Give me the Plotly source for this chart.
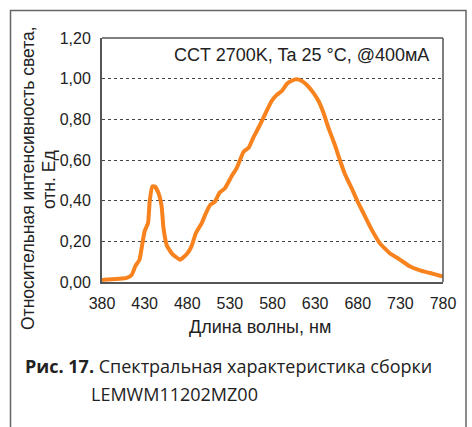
import plotly.graph_objects as go

# Data
wavelength = [380, 409, 415, 419, 424, 426.5, 430, 434, 436, 439, 442, 446, 450, 452, 456, 462,
              471.5, 480, 485, 490, 497, 501, 507, 512.5, 518, 524, 532, 538, 546, 552, 557.5,
              565, 573, 579, 585, 591, 597, 602.5, 608, 614, 620, 628, 634, 640, 645.5, 653.5,
              659, 665, 673, 680.5, 686.5, 696, 706, 718, 729.5, 741, 753, 765, 776.5, 780]
intensity = [0.01, 0.02, 0.036, 0.077, 0.11, 0.167, 0.25, 0.29, 0.40, 0.47, 0.47, 0.44, 0.37, 0.27,
             0.18, 0.14, 0.11, 0.14, 0.175, 0.24, 0.29, 0.33, 0.38, 0.395, 0.44, 0.46, 0.52, 0.56,
             0.64, 0.66, 0.71, 0.77, 0.84, 0.89, 0.92, 0.94, 0.975, 0.99, 0.997, 0.99, 0.97, 0.93,
             0.89, 0.83, 0.76, 0.67, 0.60, 0.53, 0.46, 0.39, 0.34, 0.26, 0.19, 0.14, 0.11, 0.077,
             0.057, 0.044, 0.031, 0.026]

x_ticks = [380, 430, 480, 530, 580, 630, 680, 730, 780]
y_ticks = [0.0, 0.2, 0.4, 0.6, 0.8, 1.0, 1.2]
y_tick_labels = ["0,00", "0,20", "0,40", "0,60", "0,80", "1,00", "1,20"]

W, H = 472, 427
L, R, T, B = 102, 29, 38, 145
pw, ph = W - L - R, H - T - B

def px_x(px):
    return (px - L) / pw

def px_y(py):
    return (H - B - py) / ph

fig = go.Figure()
fig.add_trace(go.Scatter(x=wavelength, y=intensity, mode="lines",
                         line=dict(color="#F7821E", width=4, shape="spline", smoothing=0.4),
                         showlegend=False, hoverinfo="skip"))

font_main = "Liberation Sans, Arial, sans-serif"
txt = "#222222"
fig.update_layout(
    width=W, height=H,
    margin=dict(l=L, r=R, t=T, b=B),
    paper_bgcolor="white", plot_bgcolor="white",
    font=dict(family=font_main, size=16, color=txt),
    xaxis=dict(range=[380, 780], tickvals=x_ticks, showgrid=False, zeroline=False,
               showline=True, linecolor="#555555", linewidth=2,
               ticks="", ticklabelstandoff=6, tickfont=dict(size=16, color=txt)),
    yaxis=dict(range=[0, 1.2], tickvals=y_ticks, ticktext=y_tick_labels, showgrid=True,
               gridcolor="#444444", griddash="dot", gridwidth=1, zeroline=False,
               showline=True, linecolor="#555555", linewidth=2, ticks="",
               ticklabelstandoff=6, tickfont=dict(size=16, color=txt)),
)

# top and right frame lines of the plot area
fig.add_shape(type="line", xref="paper", yref="paper", x0=0, x1=1, y0=1, y1=1,
              line=dict(color="#555555", width=1.5))
fig.add_shape(type="line", xref="paper", yref="paper", x0=1, x1=1, y0=0, y1=1,
              line=dict(color="#555555", width=1.5))

# outer box
fig.add_shape(type="rect", xref="paper", yref="paper",
              x0=px_x(10.5), x1=px_x(466), y0=px_y(440), y1=px_y(10.5),
              line=dict(color="#666666", width=1.5), fillcolor="rgba(0,0,0,0)", layer="below")

# axis titles
fig.add_annotation(xref="paper", yref="paper", x=px_x(260), y=px_y(327), xanchor="center",
                   yanchor="middle", showarrow=False, text="Длина волны, нм",
                   font=dict(size=18, color=txt, family=font_main))
fig.add_annotation(xref="paper", yref="paper", x=px_x(28), y=px_y(178), xanchor="center",
                   yanchor="middle", showarrow=False, textangle=-90,
                   text="Относительная интенсивность света,",
                   font=dict(size=17.5, color=txt, family=font_main))
fig.add_annotation(xref="paper", yref="paper", x=px_x(49), y=px_y(180), xanchor="center",
                   yanchor="middle", showarrow=False, textangle=-90,
                   text="отн. Ед",
                   font=dict(size=17.5, color=txt, family=font_main))

fig.add_annotation(xref="paper", yref="paper", x=px_x(431), y=px_y(55), xanchor="right",
                   yanchor="middle", showarrow=False,
                   text="CCT 2700K, Ta 25 °C, @400мА",
                   font=dict(size=18, color=txt, family=font_main))

cap_font = "Open Sans, Noto Sans, sans-serif"
fig.add_annotation(xref="paper", yref="paper", x=px_x(23), y=px_y(366), xanchor="left",
                   yanchor="middle", showarrow=False, align="left",
                   text="<b>Рис. 17.</b> Спектральная характеристика сборки",
                   font=dict(size=18, color=txt, family=cap_font))
fig.add_annotation(xref="paper", yref="paper", x=px_x(89), y=px_y(394), xanchor="left",
                   yanchor="middle", showarrow=False, align="left",
                   text="LEMWM11202MZ00",
                   font=dict(size=18, color=txt, family=cap_font))

fig.write_html("out.html")
